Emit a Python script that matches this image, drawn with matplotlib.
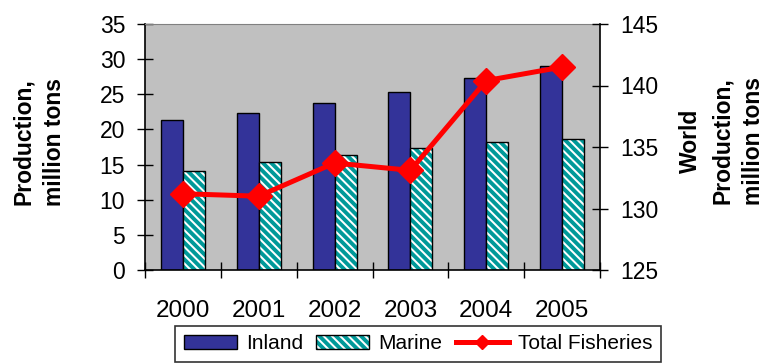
import matplotlib
matplotlib.use("Agg")
import matplotlib.pyplot as plt
import numpy as np
from matplotlib.patches import Patch
from matplotlib.lines import Line2D
from matplotlib.legend_handler import HandlerTuple

years = ["2000", "2001", "2002", "2003", "2004", "2005"]
inland = [21.3, 22.4, 23.8, 25.3, 27.3, 29.0]
marine = [14.1, 15.3, 16.4, 17.3, 18.2, 18.7]
total = [131.2, 131.0, 133.7, 133.1, 140.4, 141.5]

left_ticks = [0, 5, 10, 15, 20, 25, 30, 35]
right_ticks = [125, 130, 135, 140, 145]

plt.rcParams['font.family'] = ['Liberation Sans', 'DejaVu Sans']
plt.rcParams['hatch.linewidth'] = 2.8

INLAND = '#333399'
TEAL = '#009999'
GRAY = '#C0C0C0'
HATCH = '\\' * 4

fig = plt.figure(figsize=(7.65, 3.64), dpi=100)
ax = fig.add_axes([145/765, 1-270/364, 455/765, 246/364])
ax.set_facecolor(GRAY)

x = np.arange(len(years))
w = 0.29
ax.bar(x - w/2, inland, w, color=INLAND, edgecolor='black', linewidth=1.0, zorder=2)
ax.bar(x + w/2, marine, w, color='white', edgecolor=TEAL, linewidth=0, hatch=HATCH, zorder=2)
ax.bar(x + w/2, marine, w, fill=False, edgecolor='black', linewidth=1.0, zorder=3)

ax.set_xlim(-0.5, len(years) - 0.5)
ax.set_ylim(0, 35)
ax.set_yticks(left_ticks)
ax.set_yticklabels([str(t) for t in left_ticks], fontsize=16.5)
ax.tick_params(axis='y', direction='inout', length=11.5, width=1, pad=8.5)
ax.set_xticks(x)
ax.set_xticklabels(years, fontsize=17.5)
ax.tick_params(axis='x', which='major', length=0, pad=21.5)
ax.set_xticks(np.arange(-0.5, len(years)), minor=True)
ax.tick_params(axis='x', which='minor', direction='inout', length=11, width=1)

ax.spines['top'].set_color('#808080')
ax.spines['right'].set_visible(False)
for s in ['left', 'bottom']:
    ax.spines[s].set_linewidth(1.2)

ax2 = ax.twinx()
ax2.plot(x, total, color='red', linewidth=3.6, marker='D', markersize=13,
         markeredgecolor='red', zorder=5)
ax2.set_ylim(125, 145)
ax2.set_yticks(right_ticks)
ax2.set_yticklabels([str(t) for t in right_ticks], fontsize=16.5)
ax2.tick_params(axis='y', direction='inout', length=12, width=1, pad=8.5)
ax2.spines['top'].set_visible(False)
ax2.spines['left'].set_visible(False)
ax2.spines['bottom'].set_visible(False)
ax2.spines['right'].set_linewidth(1.2)

fig.text(39/765, 1-142/364, "Production,\nmillion tons", rotation=90,
         ha='center', va='center', fontsize=16.5, fontweight='bold',
         linespacing=1.45, multialignment='center')
fig.text(722/765, 1-141/364, "World\nProduction,\nmillion tons", rotation=90,
         ha='center', va='center', fontsize=16.5, fontweight='bold',
         linespacing=1.45, multialignment='center')

h_inland = Patch(facecolor=INLAND, edgecolor='black', linewidth=1.0)
h_mar1 = Patch(facecolor='white', edgecolor=TEAL, linewidth=0, hatch=HATCH)
h_mar2 = Patch(fill=False, edgecolor='black', linewidth=1.0)
h_tot = Line2D([], [], color='red', linewidth=3.6, marker='D', markersize=7)
leg = fig.legend([h_inland, (h_mar1, h_mar2), h_tot],
                 ["Inland", "Marine", "Total Fisheries"],
                 handler_map={tuple: HandlerTuple(ndivide=1, pad=0)},
                 loc='upper left', bbox_to_anchor=(175/765, 1-325.7/364),
                 bbox_transform=fig.transFigure, borderaxespad=0,
                 ncol=3, fontsize=15, frameon=True, fancybox=False,
                 edgecolor='black', handlelength=2.55, handleheight=0.65,
                 handletextpad=0.42, columnspacing=0.65, borderpad=0.42)
leg.get_frame().set_linewidth(1.2)

fig.savefig("out.png", dpi=100)
